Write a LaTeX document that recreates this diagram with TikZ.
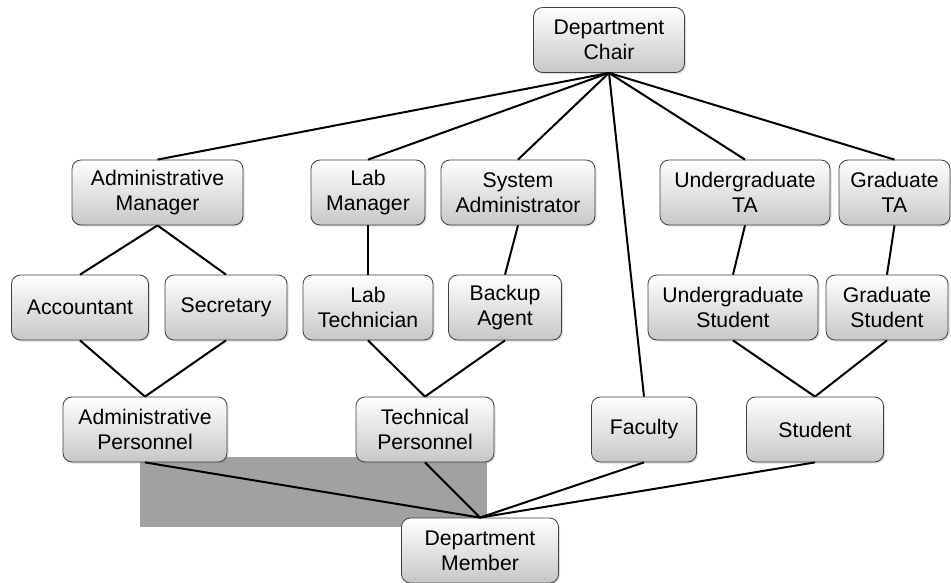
\documentclass[tikz,border=0pt]{standalone}
\usepackage{fontspec}
\setmainfont{Liberation Sans}
\usetikzlibrary{shadows}

\tikzset{
  role/.style={draw=black!75, line width=0.8pt, rounded corners=9pt,
    top color=white, bottom color=black!22, minimum height=65pt,
    align=center, inner sep=2pt, font=\fontsize{21.2}{25}\selectfont,
    drop shadow={opacity=0.25, shadow xshift=1.5pt, shadow yshift=-1.5pt}},
  link/.style={line width=2pt}
}

\begin{document}
\begin{tikzpicture}[x=1pt, y=-1pt]
  \useasboundingbox (0,0) rectangle (951,583);

  % Grey patch behind the lower links
  \fill[black!37] (140,457) rectangle (487,527);

  % Draw the role nodes
  \foreach \name/\x/\y/\w/\txt in {
      chair/609/40/151/{Department\\Chair},
      adminmgr/157.5/192.5/171/{Administrative\\Manager},
      labmgr/368/192.5/114/{Lab\\Manager},
      sysadmin/518/192.5/154/{System\\Administrator},
      ugta/745/192.5/170/{Undergraduate\\TA},
      gradta/894.5/192.5/111/{Graduate\\TA},
      accountant/80/307.5/137/{Accountant},
      secretary/226/307.5/122/{Secretary},
      labtech/368/307.5/130/{Lab\\Technician},
      backup/505/307.5/113/{Backup\\Agent},
      ugstudent/733/307.5/170/{Undergraduate\\Student},
      gradstudent/887/307.5/122/{Graduate\\Student},
      adminpers/145/429.5/164/{Administrative\\Personnel},
      techpers/425/429.5/138/{Technical\\Personnel},
      faculty/644/429.5/105/{Faculty},
      student/815/429.5/137/{Student},
      member/480/550.5/157/{Department\\Member}} {
    \node[role, minimum width=\w pt] (\name) at (\x,\y) {\txt};
  }

  % Draw the links from top to bottom
  \foreach \a/\b in {chair/adminmgr, chair/labmgr, chair/sysadmin,
      chair/faculty, chair/ugta, chair/gradta,
      adminmgr/accountant, adminmgr/secretary,
      accountant/adminpers, secretary/adminpers,
      labmgr/labtech, sysadmin/backup,
      labtech/techpers, backup/techpers,
      ugta/ugstudent, gradta/gradstudent,
      ugstudent/student, gradstudent/student,
      adminpers/member, techpers/member, faculty/member, student/member} {
    \draw[link] (\a.south) -- (\b.north);
  }
\end{tikzpicture}
\end{document}
